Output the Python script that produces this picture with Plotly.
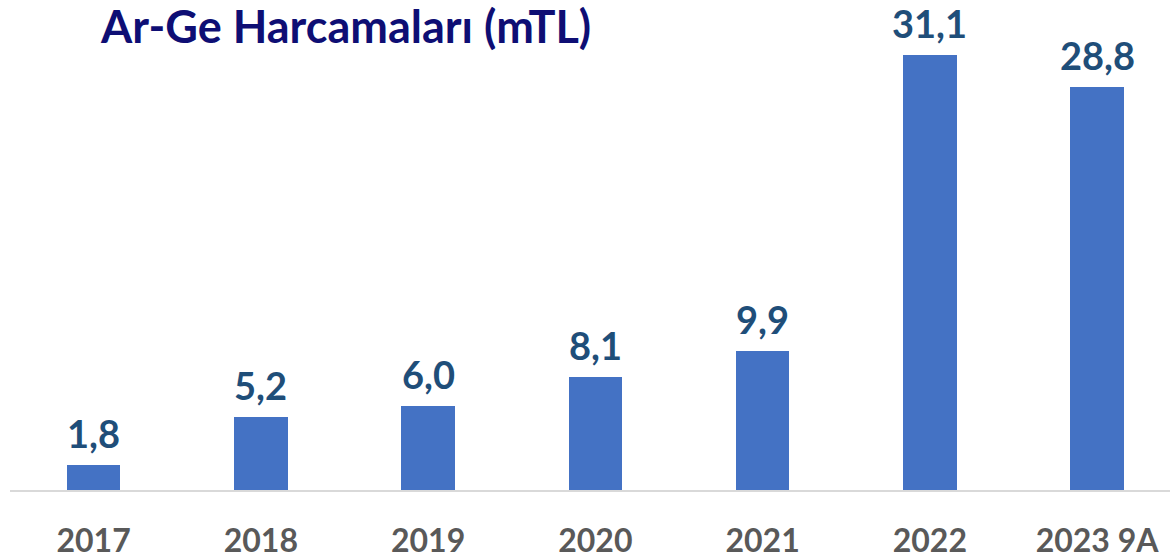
import plotly.graph_objects as go

categories = ["2017", "2018", "2019", "2020", "2021", "2022", "2023 9A"]
values = [1.8, 5.2, 6.0, 8.1, 9.9, 31.1, 28.8]
labels = ["1,8", "5,2", "6,0", "8,1", "9,9", "31,1", "28,8"]
title_text = "Ar-Ge Harcamaları (mTL)"

fig = go.Figure()
fig.add_trace(go.Bar(
    x=categories, y=values,
    marker=dict(color="#4472C4", line=dict(width=0)),
    width=0.32,
    hoverinfo="skip",
))

for i, (v, t) in enumerate(zip(values, labels)):
    fig.add_annotation(
        x=i, y=v, text=t, showarrow=False,
        yanchor="bottom", yshift=7,
        font=dict(family="Lato", size=38, color="#1F4E79", weight="bold"),
    )

fig.add_annotation(
    xref="paper", yref="paper",
    x=(98 - 10) / 1160, y=1, xanchor="left", yanchor="top",
    yshift=3,
    text="<b>" + title_text + "</b>", showarrow=False,
    font=dict(family="Lato", size=45, color="#0E0E74"),
)

fig.update_layout(
    width=1170, height=559,
    margin=dict(l=10, r=0, t=0, b=67),
    paper_bgcolor="white", plot_bgcolor="white",
    showlegend=False,
    bargap=0,
    xaxis=dict(
        type="category",
        range=[-0.5, 6.436],
        showline=True, linecolor="#D9D9D9", linewidth=2,
        showgrid=False, zeroline=False,
        ticks="outside", ticklen=22, tickcolor="rgba(0,0,0,0)",
        tickfont=dict(family="Lato", size=32, color="#595959", weight="bold"),
    ),
    yaxis=dict(
        range=[0, 35],
        visible=False,
        showgrid=False, zeroline=False,
    ),
)

fig.write_html(
    "out.html",
    config={"displayModeBar": False},
    post_script="document.body.style.margin='0';document.body.style.overflow='hidden';",
)
